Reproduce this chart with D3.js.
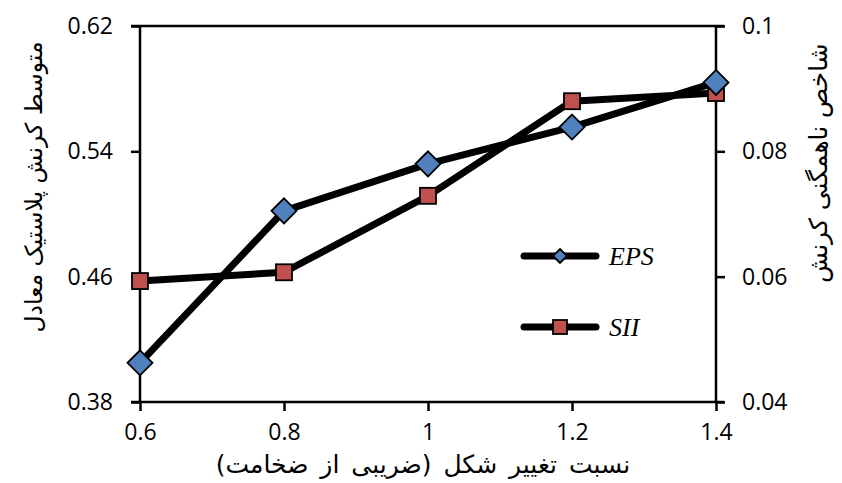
<!DOCTYPE html>
<html>
<head>
<meta charset="utf-8">
<script src="https://cdn.jsdelivr.net/npm/d3@7"></script>
<style>
  body { margin: 0; background: #fff; }
</style>
</head>
<body>
<div id="chart-area"></div>
<script>
// data
var ratios = [0.6, 0.8, 1.0, 1.2, 1.4];
var eps = [0.405, 0.502, 0.532, 0.5555, 0.584];      // left axis
var sii = [0.0593, 0.0607, 0.0729, 0.088, 0.0893];   // right axis
var xTicks = [0.6, 0.8, 1.0, 1.2, 1.4];
var leftTicks = [0.38, 0.46, 0.54, 0.62];
var rightTicks = [0.04, 0.06, 0.08, 0.1];

var width = 842, height = 483;
var svg = d3.select("#chart-area").append("svg")
    .attr("width", width)
    .attr("height", height);

var x = d3.scaleLinear().domain([0.6, 1.4]).range([140, 716]);
var yL = d3.scaleLinear().domain([0.38, 0.62]).range([402, 26]);
var yR = d3.scaleLinear().domain([0.04, 0.1]).range([402, 26]);

// top frame line
svg.append("line")
    .attr("x1", 131).attr("x2", 724)
    .attr("y1", yL(0.62)).attr("y2", yL(0.62))
    .attr("stroke", "#000").attr("stroke-width", 2.5);

var xAxis = svg.append("g")
    .attr("transform", "translate(0," + 402 + ")")
    .call(d3.axisBottom(x).tickValues(xTicks).tickSize(9).tickPadding(13)
        .tickFormat(d3.format("")));
var lAxis = svg.append("g")
    .attr("transform", "translate(140,0)")
    .call(d3.axisLeft(yL).tickValues(leftTicks).tickSize(9).tickPadding(18)
        .tickFormat(d3.format("")));
var rAxis = svg.append("g")
    .attr("transform", "translate(716,0)")
    .call(d3.axisRight(yR).tickValues(rightTicks).tickSize(9).tickPadding(17)
        .tickFormat(d3.format("")));

[xAxis, lAxis, rAxis].forEach(g => {
    g.attr("font-family", "'Open Sans', sans-serif").attr("font-size", 23);
    g.select(".domain").attr("stroke", "#000").attr("stroke-width", 2.5);
    g.selectAll(".tick line").attr("stroke", "#000").attr("stroke-width", 2.5);
    g.selectAll(".tick text").attr("fill", "#000");
});
lAxis.select(".domain").attr("d", "M0,26V402");
rAxis.select(".domain").attr("d", "M0,26V402");
xAxis.select(".domain").attr("d", "M131,0H724");

// lines
var lineL = d3.line().x((d, i) => x(ratios[i])).y(d => yL(d));
var lineR = d3.line().x((d, i) => x(ratios[i])).y(d => yR(d));

svg.append("path").datum(sii)
    .attr("d", lineR)
    .attr("fill", "none").attr("stroke", "#000")
    .attr("stroke-width", 7).attr("stroke-linejoin", "round");
svg.append("path").datum(eps)
    .attr("d", lineL)
    .attr("fill", "none").attr("stroke", "#000")
    .attr("stroke-width", 7).attr("stroke-linejoin", "round");

var diamond = "M0,-12.5L12.5,0L0,12.5L-12.5,0Z";

svg.selectAll(".sq").data(sii).enter().append("rect")
    .attr("class", "sq")
    .attr("x", (d, i) => x(ratios[i]) - 8)
    .attr("y", d => yR(d) - 8)
    .attr("width", 16).attr("height", 16)
    .attr("fill", "#C0504D").attr("stroke", "#000").attr("stroke-width", 1.8);

svg.selectAll(".dm").data(eps).enter().append("path")
    .attr("class", "dm")
    .attr("d", diamond)
    .attr("transform", (d, i) => "translate(" + x(ratios[i]) + "," + yL(d) + ")")
    .attr("fill", "#4F81BD").attr("stroke", "#000").attr("stroke-width", 1.8);

// legend
var legend = [
    { name: "EPS", y: 256 },
    { name: "SII", y: 327 }
];
legend.forEach((d, i) => {
    var g = svg.append("g").attr("transform", "translate(0," + d.y + ")");
    g.append("line").attr("x1", 524).attr("x2", 596)
        .attr("stroke", "#000").attr("stroke-width", 7).attr("stroke-linecap", "round");
    if (i == 0) {
        g.append("path").attr("d", "M0,-7L7,0L0,7L-7,0Z")
            .attr("transform", "translate(560,0)")
            .attr("fill", "#4F81BD").attr("stroke", "#000").attr("stroke-width", 1.8);
    } else {
        g.append("rect").attr("x", 553).attr("y", -7).attr("width", 14).attr("height", 14)
            .attr("fill", "#C0504D").attr("stroke", "#000").attr("stroke-width", 1.8);
    }
    g.append("text").attr("x", 609).attr("y", 9)
        .attr("font-family", "'Liberation Serif', serif")
        .attr("font-style", "italic")
        .attr("font-size", 26)
        .text(d.name);
});

// axis titles
svg.append("text")
    .attr("x", 423).attr("y", 473)
    .attr("text-anchor", "middle")
    .attr("font-family", "'DejaVu Sans', sans-serif")
    .attr("font-size", 25)
    .attr("word-spacing", 4)
    .attr("direction", "rtl")
    .text("نسبت تغییر شکل (ضریبی از ضخامت)");

svg.append("text")
    .attr("transform", "translate(42,187) rotate(-90)")
    .attr("text-anchor", "middle")
    .attr("font-family", "'DejaVu Sans', sans-serif")
    .attr("font-size", 23.5)
    .attr("direction", "rtl")
    .text("متوسط کرنش پلاستیک معادل");

svg.append("text")
    .attr("transform", "translate(827,163) rotate(-90)")
    .attr("text-anchor", "middle")
    .attr("font-family", "'DejaVu Sans', sans-serif")
    .attr("font-size", 25)
    .attr("direction", "rtl")
    .text("شاخص ناهمگنی کرنش");
</script>
</body>
</html>
